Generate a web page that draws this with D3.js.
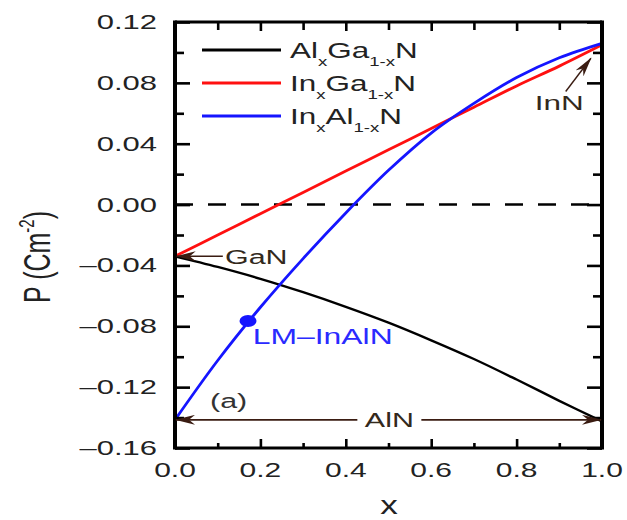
<!DOCTYPE html>
<html><head><meta charset="utf-8">
<script src="https://cdn.jsdelivr.net/npm/d3@7/dist/d3.min.js"></script>
<style>
html,body{margin:0;padding:0;background:#fff;}
svg{display:block;}
text{font-family:"Liberation Sans",Arial,sans-serif;}
</style></head>
<body>
<svg id="chart" width="627" height="520"></svg>
<script>
// ---------- data ----------
const xValues = [0, 0.1, 0.2, 0.3, 0.4, 0.5, 0.6, 0.7, 0.8, 0.9, 1.0];
const alganP = [-0.034, -0.0410, -0.0488, -0.0576, -0.0672, -0.0776, -0.0892, -0.1015, -0.1150, -0.1290, -0.1425];
const inganP = [-0.034, -0.020, -0.006, 0.008, 0.022, 0.036, 0.050, 0.064, 0.078, 0.091, 0.105];
const inalnP = [-0.1415, -0.1025, -0.0675, -0.0355, -0.0055, 0.0225, 0.047, 0.0665, 0.0835, 0.0965, 0.106];
const seriesNames = [
  [["Al",0],["x",1],["Ga",0],["1-x",1],["N",0]],
  [["In",0],["x",1],["Ga",0],["1-x",1],["N",0]],
  [["In",0],["x",1],["Al",0],["1-x",1],["N",0]]
];
const seriesColors = ["#000000", "#ff1010", "#1515ff"];
const xMajorTicks = [0, 0.2, 0.4, 0.6, 0.8, 1.0];
const xTickLabels = ["0.0", "0.2", "0.4", "0.6", "0.8", "1.0"];
const xMinorTicks = [0.1, 0.3, 0.5, 0.7, 0.9];
const yMajorTicks = [0.12, 0.08, 0.04, 0.00, -0.04, -0.08, -0.12, -0.16];
const yTickLabels = ["0.12", "0.08", "0.04", "0.00", "\u20130.04", "\u20130.08", "\u20130.12", "\u20130.16"];
const yMinorTicks = [0.10, 0.06, 0.02, -0.02, -0.06, -0.10, -0.14];
const lmPoint = [0.171, -0.0765];
const ganValue = -0.034;
const alnValue = -0.1415;
const innArrow = [[0.915, 0.0743], [0.974, 0.0962]];

// ---------- layout ----------
const svg = d3.select("#chart");
const L = 175, R = 602, T = 22, B = 448;
const x = d3.scaleLinear().domain([0, 1]).range([L, R]);
const y = d3.scaleLinear().domain([-0.16, 0.12]).range([B, T]);
const SX = 1.45;
const txtCol = "#222";
const annCol = "#3a1c12";

function stext(px, py, sx, str, size, anchor, color) {
  const g = svg.append("g").attr("transform", `translate(${px},${py}) scale(${sx},1)`);
  const t = g.append("text").attr("text-anchor", anchor || "start")
    .attr("font-size", size).attr("fill", color || txtCol);
  if (str !== null) t.text(str);
  return t;
}

// arrow marker
const defs = svg.append("defs");
defs.append("marker").attr("id", "ah").attr("viewBox", "0 0 20 10")
  .attr("refX", 19).attr("refY", 5).attr("markerWidth", 20).attr("markerHeight", 10)
  .attr("markerUnits", "userSpaceOnUse").attr("orient", "auto")
  .append("path").attr("d", "M0,0 L20,5 L0,10 L6,5 Z").attr("fill", annCol);

// dashed zero line
svg.append("line").attr("x1", x(0)).attr("x2", x(1)).attr("y1", y(0)).attr("y2", y(0))
  .attr("stroke", "#000").attr("stroke-width", 2.6).attr("stroke-dasharray", "18,15");

// series
const line = d3.line().x(d => x(d[0])).y(d => y(d[1])).curve(d3.curveCatmullRom.alpha(0.5));
[alganP, inganP, inalnP].forEach((vals, i) => {
  svg.append("path").datum(xValues.map((v, k) => [v, vals[k]]))
    .attr("d", line).attr("fill", "none").attr("stroke", seriesColors[i])
    .attr("stroke-width", i === 0 ? 2.4 : 2.8).attr("stroke-linejoin", "round");
});

// LM point
svg.append("ellipse").attr("cx", x(lmPoint[0])).attr("cy", y(lmPoint[1]))
  .attr("rx", 8.5).attr("ry", 6).attr("fill", seriesColors[2]);

// ticks (inward)
const gAx = svg.append("g");
gAx.append("g").attr("transform", `translate(${L},0)`)
  .call(d3.axisLeft(y).tickValues(yMajorTicks).tickSize(-15).tickFormat(""));
gAx.append("g").attr("transform", `translate(${L},0)`)
  .call(d3.axisLeft(y).tickValues(yMinorTicks).tickSize(-9).tickFormat(""));
gAx.append("g").attr("transform", `translate(${R},0)`)
  .call(d3.axisRight(y).tickValues(yMajorTicks).tickSize(-15).tickFormat(""));
gAx.append("g").attr("transform", `translate(${R},0)`)
  .call(d3.axisRight(y).tickValues(yMinorTicks).tickSize(-9).tickFormat(""));
gAx.append("g").attr("transform", `translate(0,${B})`)
  .call(d3.axisBottom(x).tickValues(xMajorTicks).tickSize(-9).tickFormat(""));
gAx.append("g").attr("transform", `translate(0,${B})`)
  .call(d3.axisBottom(x).tickValues(xMinorTicks).tickSize(-5).tickFormat(""));
gAx.append("g").attr("transform", `translate(0,${T})`)
  .call(d3.axisTop(x).tickValues(xMajorTicks).tickSize(-9).tickFormat(""));
gAx.append("g").attr("transform", `translate(0,${T})`)
  .call(d3.axisTop(x).tickValues(xMinorTicks).tickSize(-8).tickFormat(""));
gAx.selectAll(".domain").remove();
gAx.selectAll(".tick line").attr("stroke", "#000").attr("stroke-width", 2.6);

// frame
svg.append("line").attr("x1", L).attr("x2", L).attr("y1", T - 1.5).attr("y2", B + 1.5).attr("stroke", "#000").attr("stroke-width", 4);
svg.append("line").attr("x1", R).attr("x2", R).attr("y1", T - 1.5).attr("y2", B + 1.5).attr("stroke", "#000").attr("stroke-width", 4);
svg.append("line").attr("x1", L).attr("x2", R).attr("y1", T).attr("y2", T).attr("stroke", "#000").attr("stroke-width", 3);
svg.append("line").attr("x1", L).attr("x2", R).attr("y1", B).attr("y2", B).attr("stroke", "#000").attr("stroke-width", 3);

// tick labels
yMajorTicks.forEach((v, i) => stext(157, y(v) + 7, 1.55, yTickLabels[i], 20, "end"));
xMajorTicks.forEach((v, i) => stext(x(v), 477, 1.5, xTickLabels[i], 20, "middle"));

// axis titles
stext(389, 514, 1.35, "x", 26, "middle");
{
  const g = svg.append("g").attr("transform", "translate(50,257) rotate(-90) scale(1,1.45)");
  const t = g.append("text").attr("text-anchor", "middle").attr("font-size", 25).attr("fill", txtCol);
  t.append("tspan").text("P (Cm");
  t.append("tspan").attr("dy", -11).attr("font-size", 15).text("-2");
  t.append("tspan").attr("dy", 11).text(")");
}

// legend
const legRows = [50, 83, 116];
seriesNames.forEach((parts, i) => {
  const ry = legRows[i];
  svg.append("line").attr("x1", 202).attr("x2", 281).attr("y1", ry).attr("y2", ry)
    .attr("stroke", seriesColors[i]).attr("stroke-width", 2.8);
  const t = stext(290, ry + 8.3, 1.43, null, 22, "start");
  let sub = false;
  parts.forEach(([s, isSub]) => {
    const ts = t.append("tspan").text(s);
    if (isSub && !sub) { ts.attr("dy", 8).attr("font-size", 13); sub = true; }
    else if (isSub) { ts.attr("font-size", 13); }
    else if (sub) { ts.attr("dy", -8); sub = false; }
  });
});

// GaN annotation
svg.append("line").attr("x1", x(0.112)).attr("x2", x(0.004)).attr("y1", y(ganValue)).attr("y2", y(ganValue))
  .attr("stroke", annCol).attr("stroke-width", 1.6).attr("marker-end", "url(#ah)");
stext(x(0.117), y(ganValue) + 7.5, SX, "GaN", 21, "start", "#33291c");

// InN annotation
svg.append("line").attr("x1", x(innArrow[0][0])).attr("y1", y(innArrow[0][1]))
  .attr("x2", x(innArrow[1][0])).attr("y2", y(innArrow[1][1]))
  .attr("stroke", annCol).attr("stroke-width", 1.4).attr("marker-end", "url(#ah)");
stext(x(0.9), y(0.0743) + 18, 1.5, "InN", 21, "middle", "#33291c");

// AlN double arrow
const alnMid = x(0.502);
svg.append("line").attr("x1", alnMid - 32).attr("x2", x(0) + 1).attr("y1", y(alnValue)).attr("y2", y(alnValue))
  .attr("stroke", annCol).attr("stroke-width", 1.6).attr("marker-end", "url(#ah)");
svg.append("line").attr("x1", alnMid + 32).attr("x2", x(1) - 1).attr("y1", y(alnValue)).attr("y2", y(alnValue))
  .attr("stroke", annCol).attr("stroke-width", 1.6).attr("marker-end", "url(#ah)");
stext(alnMid, y(alnValue) + 7.5, SX, "AlN", 21, "middle", "#33291c");

// (a) and LM label
stext(x(0.082), y(-0.1335), SX, "(a)", 21, "start", "#333");
stext(x(0.182), y(-0.0915), 1.45, "LM\u2013InAlN", 22, "start", "#2a2aff");
</script>
</body></html>
